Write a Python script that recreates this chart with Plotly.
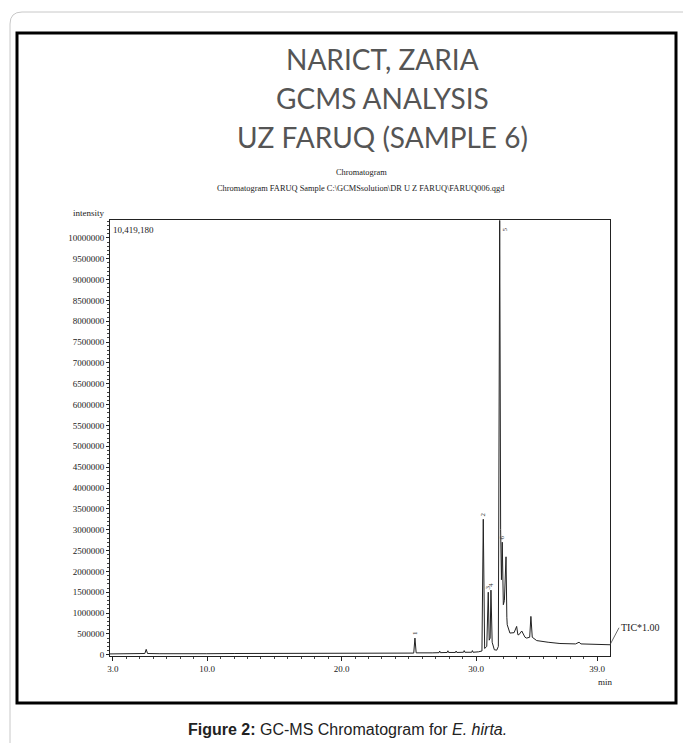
import plotly.graph_objects as go

# ---- data ----
retention_min = [2.78, 3.90, 4.91, 5.37, 5.47, 5.57, 6.43, 7.95, 9.98, 12.01, 15.06, 18.10, 20.13,
                 22.16, 24.19, 25.36, 25.45, 25.54, 26.73, 27.24, 27.29, 27.34, 27.85, 27.90, 27.95,
                 28.46, 28.51, 28.56, 29.06, 29.11, 29.16, 29.67, 29.72, 29.77, 30.17, 30.43, 30.53,
                 30.63, 30.79, 30.90, 30.97, 31.04, 31.10, 31.19, 31.35, 31.53, 31.65, 31.75, 31.82,
                 31.88, 31.94, 32.02, 32.10, 32.22, 32.28, 32.31, 32.51, 32.82, 33.01, 33.10, 33.18,
                 33.39, 33.63, 33.75, 33.98, 34.07, 34.17, 34.50, 35.35, 36.23, 37.39, 37.65, 37.79,
                 38.91, 39.95]
intensity = [20000, 20000, 25000, 30000, 130000, 30000, 25000, 20000, 25000, 30000, 30000, 35000,
             35000, 40000, 40000, 40000, 400000, 45000, 45000, 50000, 90000, 50000, 55000, 95000,
             55000, 55000, 90000, 55000, 60000, 100000, 60000, 60000, 100000, 60000, 70000, 90000,
             3250000, 150000, 200000, 1500000, 350000, 400000, 1550000, 300000, 120000, 110000,
             200000, 10419180, 3000000, 1800000, 2700000, 1200000, 1300000, 2350000, 900000,
             720000, 520000, 530000, 680000, 480000, 480000, 570000, 420000, 400000, 420000,
             920000, 420000, 340000, 300000, 270000, 260000, 300000, 260000, 250000, 240000]

peak_times = [25.45, 30.53, 30.90, 31.10, 31.94]
peak_heights = [400000, 3250000, 1500000, 1550000, 2700000]
peak_labels = ["1", "2", "3", "4", "6"]

y_tick_vals = list(range(0, 10000001, 500000))
y_tick_text = [str(v) for v in y_tick_vals]
x_tick_vals = [3.0, 10.0, 20.0, 30.0, 39.0]
x_tick_text = ["3.0", "10.0", "20.0", "30.0", "39.0"]

title_lines = ["NARICT, ZARIA", "GCMS ANALYSIS", "UZ FARUQ (SAMPLE 6)"]
sub_lines = ["Chromatogram", "Chromatogram FARUQ Sample C:\\GCMSsolution\\DR U Z FARUQ\\FARUQ006.qgd"]
max_label = "10,419,180"
caption = "<b>Figure 2:</b> GC-MS Chromatogram for <i>E. hirta.</i>"

# ---- figure ----
W, H = 683, 743
L, R, T, B = 110, 73, 220, 87
PW, PH = W - L - R, H - T - B


def px(x):
    return (x - L) / PW


def py(y):
    return (H - B - y) / PH


serif = "Liberation Serif"

fig = go.Figure()
fig.add_trace(go.Scatter(x=retention_min, y=intensity, mode="lines",
                         line=dict(color="#222", width=1), hoverinfo="x+y", showlegend=False))

fig.update_layout(
    width=W, height=H, margin=dict(l=L, r=R, t=T, b=B),
    paper_bgcolor="white", plot_bgcolor="white", showlegend=False,
    xaxis=dict(range=[2.78, 39.95], tickvals=x_tick_vals, ticktext=x_tick_text,
               showgrid=False, zeroline=False, showline=True, linecolor="#222", linewidth=1,
               mirror=True, ticks="outside", ticklen=4, tickcolor="#222",
               minor=dict(dtick=1, ticks="outside", ticklen=2, tickcolor="#444"),
               tickfont=dict(family=serif, size=9, color="#222")),
    yaxis=dict(range=[-30000, 10430000], tickvals=y_tick_vals, ticktext=y_tick_text,
               showgrid=False, zeroline=False, showline=True, linecolor="#222", linewidth=1,
               mirror=True, ticks="outside", ticklen=3, tickcolor="#222",
               minor=dict(dtick=100000, ticks="outside", ticklen=2, tickcolor="#444"),
               tickfont=dict(family=serif, size=9, color="#222")),
)

ann = []
for t, yy in zip(title_lines, [59, 98, 137]):
    ann.append(dict(text=t, x=px(382), y=py(yy), xref="paper", yref="paper",
                    showarrow=False, xanchor="center", yanchor="middle",
                    font=dict(family="Lato", size=28, color="#555")))
for t, yy in zip(sub_lines, [173, 189]):
    ann.append(dict(text=t, x=px(361), y=py(yy), xref="paper", yref="paper",
                    showarrow=False, xanchor="center", yanchor="middle",
                    font=dict(family=serif, size=8.4, color="#222")))
ann.append(dict(text="intensity", x=px(88), y=py(213), xref="paper", yref="paper",
                showarrow=False, xanchor="center", yanchor="middle",
                font=dict(family=serif, size=9, color="#222")))
ann.append(dict(text=max_label, x=px(111), y=py(230), xref="paper", yref="paper",
                showarrow=False, xanchor="left", yanchor="middle",
                font=dict(family=serif, size=9, color="#222")))
ann.append(dict(text="min", x=px(605), y=py(682), xref="paper", yref="paper",
                showarrow=False, xanchor="center", yanchor="middle",
                font=dict(family=serif, size=9, color="#222")))
ann.append(dict(text="TIC*1.00", x=retention_min[-1], y=intensity[-1], xref="x", yref="y",
                showarrow=True, arrowhead=0, arrowwidth=0.8, arrowcolor="#444",
                ax=9, ay=-17, xanchor="left", yanchor="middle",
                font=dict(family=serif, size=10, color="#222")))
for t, h, lab in zip(peak_times, peak_heights, peak_labels):
    ann.append(dict(text=lab, x=t, y=h, xref="x", yref="y", showarrow=False,
                    textangle=-90, yanchor="bottom", xanchor="center", yshift=1,
                    font=dict(family=serif, size=7, color="#333")))
ann.append(dict(text="5", x=32.15, y=10300000, xref="x", yref="y",
                showarrow=False, textangle=-90, yanchor="top", xanchor="center",
                font=dict(family=serif, size=7, color="#333")))
ann.append(dict(text=caption, x=px(347), y=py(729), xref="paper", yref="paper",
                showarrow=False, xanchor="center", yanchor="middle",
                font=dict(family="Liberation Sans", size=16, color="#222")))
fig.update_layout(annotations=ann)

shapes = [
    dict(type="rect", xref="paper", yref="paper", x0=px(17), x1=px(676), y0=py(703), y1=py(33),
         line=dict(color="black", width=3)),
    dict(type="path", xref="paper", yref="paper",
         path=f"M {px(10)},{py(745)} L {px(10)},{py(24)} Q {px(10)},{py(12)} {px(22)},{py(12)} L {px(700)},{py(12)}",
         line=dict(color="#c8c8c8", width=1)),
]
fig.update_layout(shapes=shapes)

fig.write_html("out.html", config={"displayModeBar": False},
               post_script="document.body.style.margin='0';document.body.style.overflow='hidden';")
